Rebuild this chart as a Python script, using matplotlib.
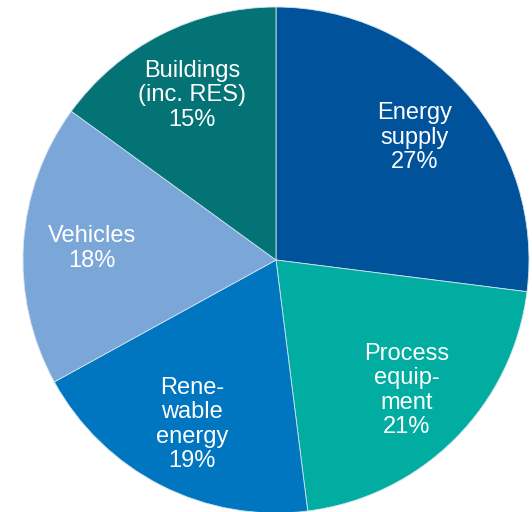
import matplotlib.pyplot as plt
import numpy as np

plt.rcParams['font.family'] = ['Liberation Sans', 'DejaVu Sans']

# datos del grafico
etiquetas = ["Energy\nsupply", "Process\nequip-\nment", "Rene-\nwable\nenergy",
             "Vehicles", "Buildings\n(inc. RES)"]
valores = [27, 21, 19, 18, 15]
colores = ["#00529b", "#00ada0", "#0076c0", "#7ba6d8", "#037375"]

fig = plt.figure(figsize=(5.32, 5.12), dpi=100)
ax = fig.add_axes([23 / 532, -1 / 512, 506 / 532, 506 / 512])

wedges, _ = ax.pie(valores, colors=colores, startangle=90, counterclock=False,
                   radius=1, wedgeprops=dict(edgecolor="#cfe3ee", linewidth=0.6))

# texto dentro de cada porcion, en el angulo medio
for w, lab, v in zip(wedges, etiquetas, valores):
    ang = np.deg2rad((w.theta1 + w.theta2) / 2)
    r = 0.73
    ax.text(r * np.cos(ang), r * np.sin(ang), f"{lab}\n{v}%",
            ha="center", va="center", color="white", fontsize=17,
            linespacing=1.15)

ax.set_xlim(-1, 1)
ax.set_ylim(-1, 1)
ax.set_aspect("auto")
ax.axis("off")

fig.savefig("out.png", dpi=100)
